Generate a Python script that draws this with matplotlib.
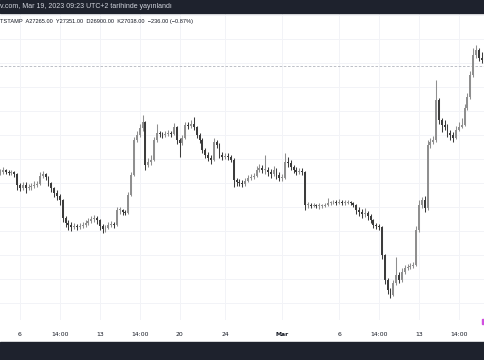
import numpy as np
import matplotlib.pyplot as plt
from matplotlib.patches import Rectangle

# 6h candles, first one at Feb 4 06:00 (day 0 = Feb 6 00:00)
closes = [23840, 23900, 23840, 23810, 23840, 23780, 23450, 23360, 23450, 23360,
          23390, 23420, 23450, 23480, 23720, 23780, 23690, 23510, 23360, 23210,
          23120, 23000, 22460, 22310, 22250, 22190, 22220, 22190, 22220, 22250,
          22310, 22370, 22430, 22460, 22400, 22220, 22130, 22160, 22250, 22280,
          22250, 22700, 22700, 22640, 22610, 23150, 23750, 24800, 24950, 25160,
          25340, 24050, 24140, 24200, 24800, 25010, 24980, 24950, 24980, 25010,
          24980, 25190, 24800, 24710, 24860, 25250, 25220, 25280, 25190, 24950,
          24800, 24500, 24350, 24260, 24200, 24740, 24650, 24350, 24290, 24320,
          24290, 24200, 23600, 23540, 23510, 23480, 23570, 23660, 23690, 23720,
          23900, 23960, 23900, 23900, 23840, 23780, 23900, 23750, 23660, 23660,
          24140, 24110, 23990, 23900, 23840, 23870, 23840, 22850, 22850, 22820,
          22850, 22820, 22820, 22820, 22850, 22910, 22910, 22940, 22910, 22940,
          22910, 22910, 22940, 22910, 22850, 22700, 22640, 22580, 22610, 22520,
          22400, 22250, 22220, 22190, 21350, 20600, 20300, 20150, 20510, 20750,
          20600, 20840, 20960, 20990, 21020, 21050, 22100, 22850, 23000, 22760,
          24650, 24740, 24800, 26000, 25400, 25250, 25190, 25010, 24950, 24860,
          25100, 25190, 25250, 25760, 26090, 26750, 27350, 27500, 27260, 27200,
          27020]

highs = [23930, 23990, 23930, 23900, 23900, 23870, 23810, 23510, 23540, 23540,
         23480, 23510, 23570, 23570, 23840, 23870, 23810, 23720, 23540, 23390,
         23300, 23180, 23030, 22520, 22400, 22340, 22310, 22280, 22310, 22340,
         22400, 22460, 22520, 22550, 22520, 22430, 22280, 22250, 22340, 22370,
         22340, 22790, 22790, 22730, 22700, 23240, 23840, 24890, 25070, 25280,
         25550, 25370, 24260, 24350, 24890, 25280, 25070, 25040, 25070, 25100,
         25070, 25310, 25220, 24860, 24950, 25340, 25340, 25400, 25490, 25220,
         25010, 24860, 24560, 24440, 24350, 24860, 24800, 24710, 24440, 24410,
         24410, 24350, 24260, 23660, 23630, 23600, 23660, 23750, 23780, 23810,
         24020, 24080, 24050, 24350, 23990, 23930, 24020, 23960, 23840, 23780,
         24410, 24290, 24200, 24050, 23990, 23960, 23960, 23870, 22940, 22910,
         22910, 22880, 22910, 22880, 22910, 23060, 22970, 23000, 23000, 23030,
         23000, 23000, 23000, 22970, 22940, 22880, 22790, 22730, 22760, 22670,
         22580, 22430, 22310, 22280, 22220, 21380, 20660, 20360, 20600, 21290,
         20840, 20960, 21050, 21080, 21110, 21140, 22220, 23000, 23090, 23120,
         24800, 24860, 24920, 26600, 26060, 25460, 25400, 25280, 25100, 25040,
         25220, 25340, 25460, 25880, 26210, 26870, 27560, 27650, 27560, 27440,
         27380]

lows = [23750, 23780, 23780, 23750, 23750, 23690, 23300, 23270, 23300, 23210,
        23300, 23300, 23360, 23390, 23450, 23660, 23600, 23420, 23240, 23090,
        23000, 22850, 22340, 22190, 22100, 22070, 22130, 22100, 22130, 22160,
        22190, 22250, 22310, 22340, 22280, 22100, 22010, 22040, 22130, 22190,
        22160, 22220, 22580, 22550, 22550, 22580, 23120, 23720, 24740, 24890,
        25070, 23900, 23990, 24050, 24170, 24740, 24890, 24860, 24890, 24920,
        24890, 24950, 24680, 24290, 24650, 24830, 25130, 25160, 25100, 24860,
        24710, 24410, 24260, 24170, 24080, 24170, 24560, 24260, 24200, 24230,
        24200, 24140, 23390, 23420, 23420, 23390, 23420, 23540, 23600, 23630,
        23690, 23840, 23810, 23780, 23720, 23660, 23720, 23630, 23570, 23570,
        23630, 23990, 23900, 23810, 23750, 23780, 23750, 22700, 22760, 22760,
        22790, 22760, 22730, 22760, 22790, 22820, 22850, 22880, 22850, 22880,
        22850, 22850, 22880, 22850, 22790, 22580, 22520, 22460, 22490, 22400,
        22310, 22160, 22130, 22100, 21230, 20480, 20180, 20060, 20120, 20450,
        20510, 20540, 20780, 20900, 20930, 20960, 21020, 22040, 22760, 22640,
        22700, 24560, 24680, 24740, 25280, 25040, 25100, 24890, 24800, 24740,
        24830, 25070, 25160, 25220, 25700, 26030, 26690, 27260, 27170, 27110,
        26840]

first_open = 23840
tick_days = [0, 3.5, 7, 10.5, 14, 18, 23, 28, 31.5, 35, 38.5]
tick_labels = ["6", "14:00", "13", "14:00", "20", "24", "Mar", "6", "14:00", "13", "14:00"]
legend = "TSTAMP  A27265.00  Y27351.00  D26900.00  K27038.00  \u2212236.00 (\u22120.87%)"
header = "v.com, Mar 19, 2023 09:23 UTC+2 tarihinde yayınlandı"

closes = np.array(closes)
opens = np.concatenate([[first_open], closes[:-1]])
days = -1.75 + 0.25 * np.arange(len(closes))
up = closes >= opens

fig = plt.figure(figsize=(4.85, 3.6), dpi=100)
fig.patch.set_facecolor("white")
ax = fig.add_axes([0, 40 / 360, 1, 307 / 360])

up_col, dn_col = "#8f8f8f", "#3c3c3c"
cols = np.where(up, up_col, dn_col)
ax.vlines(days, lows, highs, colors=cols, lw=0.75, zorder=3)
body_lo = np.minimum(opens, closes)
body_h = np.maximum(np.abs(closes - opens), 30)
ax.bar(days, body_h, bottom=body_lo, width=0.17, color=cols, lw=0, zorder=4)

# last price line
ax.axhline(closes[-1], color="#b2b5be", lw=0.6, ls=(0, (3, 2)), zorder=2)

ax.set_xlim(-20 / 11.4, 465 / 11.4)
ax.set_ylim(19400, 28610)
ax.set_yticks(np.arange(19910, 28610, 720))
ax.set_xticks(tick_days)
ax.set_xticklabels(tick_labels)
ax.grid(True, color="#f2f3f7", lw=0.7, zorder=0)
ax.tick_params(axis="both", length=0, labelsize=4.4, labelcolor="#131722", pad=9)
ax.tick_params(axis="y", labelleft=False)
for lab in ax.get_xticklabels():
    if lab.get_text() == "Mar":
        lab.set_fontweight("bold")
for s in ax.spines.values():
    s.set_visible(False)

# dark bands top and bottom
fig.patches.append(Rectangle((0, 1 - 13 / 360), 1, 13 / 360, transform=fig.transFigure,
                             color="#1e222d", zorder=0))
fig.patches.append(Rectangle((0, 0), 1, 18 / 360, transform=fig.transFigure,
                             color="#1e222d", zorder=0))
fig.patches.append(Rectangle((482 / 485, 36 / 360), 3 / 485, 5 / 360, transform=fig.transFigure,
                             color="#d14fe0", zorder=5))
fig.text(0, 1 - 6.5 / 360, header, color="#d1d4dc", fontsize=5.0, va="center", ha="left",
         family="Liberation Sans")
fig.text(0, 1 - 22 / 360, legend, color="#131722", fontsize=4.1, va="center", ha="left",
         family="Liberation Sans")

fig.savefig("out.png", dpi=100)
